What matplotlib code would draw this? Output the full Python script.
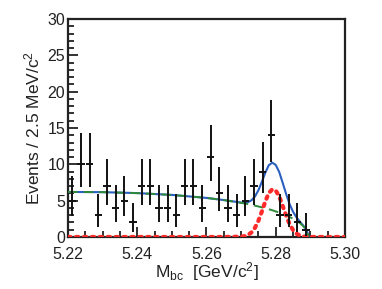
import numpy as np
import matplotlib
matplotlib.use("Agg")
import matplotlib.pyplot as plt
from matplotlib.ticker import MultipleLocator

# binned data, 2.5 MeV bins
bin_centers = [5.22125, 5.22375, 5.22625, 5.22875, 5.23125, 5.23375, 5.23625, 5.23875,
               5.24125, 5.24375, 5.24625, 5.24875, 5.25125, 5.25375, 5.25625, 5.25875,
               5.26125, 5.26375, 5.26625, 5.26875, 5.27125, 5.27375, 5.27625, 5.27875,
               5.28125, 5.28375, 5.28625, 5.28875]
counts = [5, 10, 10, 3, 7, 4, 5, 2, 7, 7, 4, 4, 3, 7, 7, 4,
          11, 6, 4, 3, 5, 7, 9, 14, 3, 3, 2, 1]
# poisson intervals read as lower / upper ends of the bars
err_lo = [2.16, 3.11, 3.11, 1.63, 2.58, 1.91, 2.16, 1.29, 2.58, 2.58, 1.91, 1.91, 1.63, 2.58, 2.58, 1.91,
          3.27, 2.38, 1.91, 1.63, 2.16, 2.58, 2.94, 3.70, 1.63, 1.63, 1.29, 0.83]
err_hi = [3.38, 4.27, 4.27, 2.92, 3.77, 3.16, 3.38, 2.64, 3.77, 3.77, 3.16, 3.16, 2.92, 3.77, 3.77, 3.16,
          4.42, 3.58, 3.16, 2.92, 3.38, 3.77, 4.11, 4.80, 2.92, 2.92, 2.64, 2.30]

# fit curves
curve_x = [5.220, 5.230, 5.240, 5.250, 5.260, 5.265, 5.270, 5.271, 5.272, 5.273, 5.274,
           5.275, 5.276, 5.277, 5.278, 5.279, 5.280, 5.281, 5.282, 5.283, 5.284, 5.285,
           5.286, 5.287, 5.288, 5.289, 5.2895]
bkg_y = [6.20, 6.17, 6.04, 5.79, 5.38, 5.08, 4.70, 4.61, 4.52, 4.42, 4.31,
         4.20, 4.08, 3.96, 3.82, 3.68, 3.52, 3.36, 3.18, 2.98, 2.76, 2.52,
         2.24, 1.90, 1.48, 0.86, 0.0]
sig_y = [0.0, 0.0, 0.0, 0.0, 0.0, 0.0, 0.04, 0.11, 0.28, 0.63, 1.26,
         2.23, 3.51, 4.89, 6.06, 6.55, 6.40, 5.60, 4.30, 2.95, 1.78, 0.96,
         0.46, 0.20, 0.07, 0.02, 0.0]
sig_tail_x = [5.2895, 5.300]
sig_tail_y = [0.0, 0.0]


def main():
    plt.rcParams["font.family"] = ["Liberation Sans", "DejaVu Sans"]
    plt.rcParams["mathtext.fontset"] = "custom"
    plt.rcParams["mathtext.rm"] = "Liberation Sans"
    plt.rcParams["mathtext.it"] = "Liberation Sans"

    fig = plt.figure(figsize=(3.82, 2.89), dpi=100)
    ax = fig.add_axes([0.178, 0.180, 0.725, 0.754])

    total_y = np.array(bkg_y) + np.array(sig_y)

    ax.plot(curve_x, total_y, color="#2b5fbf", lw=1.5, zorder=3)
    ax.plot(curve_x, bkg_y, color="#2f8a3a", lw=1.4, ls=(0, (5, 3)), zorder=4)
    ax.plot(curve_x + sig_tail_x, sig_y + sig_tail_y, color="#ff2a2a", lw=3.0,
            ls=(0, (0.6, 1.3)), dash_capstyle="round", zorder=5)

    ax.errorbar(bin_centers, counts, xerr=0.00105, yerr=[err_lo, err_hi],
                fmt="none", ecolor="#111111", elinewidth=1.4, capsize=0, zorder=6)

    ax.set_xlim(5.22, 5.30)
    ax.set_ylim(0, 30)
    ax.xaxis.set_major_locator(MultipleLocator(0.02))
    ax.xaxis.set_minor_locator(MultipleLocator(0.005))
    ax.yaxis.set_major_locator(MultipleLocator(5))
    ax.yaxis.set_minor_locator(MultipleLocator(1))
    ax.xaxis.set_major_formatter(matplotlib.ticker.FormatStrFormatter("%.2f"))
    ax.tick_params(which="both", direction="in", top=False, right=False,
                   labelsize=11.5, width=1.3, colors="#222222")
    ax.tick_params(axis="x", which="major", pad=7)
    ax.tick_params(axis="y", which="major", pad=2)
    ax.tick_params(which="major", length=7)
    ax.tick_params(which="minor", length=4)
    for sp in ax.spines.values():
        sp.set_linewidth(1.6)
        sp.set_color("#222222")

    ax.set_ylabel(r"Events / 2.5 MeV/c$^2$", fontsize=12.5, labelpad=4, color="#222222")
    ax.set_xlabel(r"M$_{\rm bc}$  [GeV/c$^2$]", fontsize=12.5, labelpad=-1, color="#222222")

    fig.savefig("out.png", dpi=100)
    plt.close(fig)


if __name__ == "__main__":
    main()
